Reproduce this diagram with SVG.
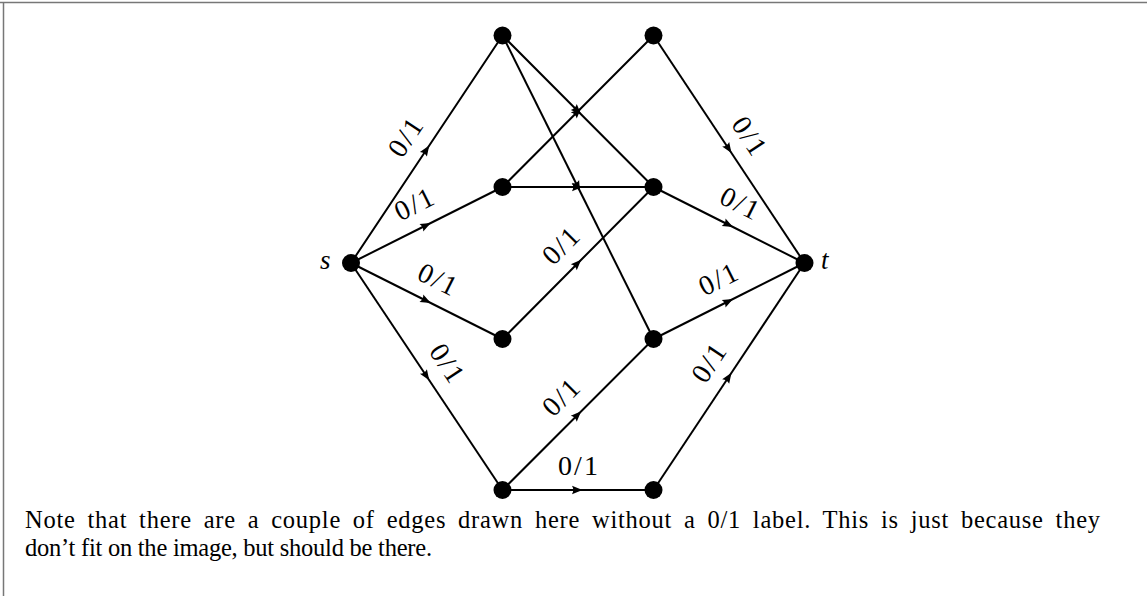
<svg xmlns="http://www.w3.org/2000/svg" width="1147" height="596" viewBox="0 0 1147 596">
<defs>
<marker id="arr" markerUnits="userSpaceOnUse" markerWidth="20" markerHeight="20" viewBox="-10 -10 20 20" refX="0" refY="0" orient="auto">
<path d="M4.5,0 L-6,-4.2 Q-3.5,0 -6,4.2 Z" fill="#000"/>
</marker>
<style>
.e{fill:none;stroke:#000;stroke-width:2;marker-mid:url(#arr)}
.n{fill:#000}
.lb{font-family:"Liberation Serif",serif;font-size:28px;fill:#000;text-anchor:middle}
.it{font-family:"Liberation Serif",serif;font-size:27px;font-style:italic;fill:#000}
.body{font-family:"Liberation Serif",serif;font-size:24.5px;fill:#000}
</style>
</defs>
<rect width="1147" height="596" fill="#fff"/>
<g id="border" stroke="#777" stroke-width="1.5" fill="none">
<line x1="0" y1="2.5" x2="1147" y2="2.5"/>
<line x1="3.5" y1="2.5" x2="3.5" y2="596"/>
</g>
<g id="edges">
<path class="e" d="M351,263 L426.75,149.25 L502.5,35.5"/>
<path class="e" d="M351,263 L426.75,225 L502.5,187"/>
<path class="e" d="M351,263 L426.75,301 L502.5,339"/>
<path class="e" d="M351,263 L426.75,376.5 L502.5,490"/>
<path class="e" d="M502.5,35.5 L578,111.25 L653.5,187"/>
<path class="e" d="M502.5,187 L578,111.25 L653.5,35.5"/>
<path class="e" d="M502.5,35.5 L578,187.25 L653.5,339"/>
<path class="e" d="M502.5,187 L578,187 L653.5,187"/>
<path class="e" d="M502.5,339 L578,263 L653.5,187"/>
<path class="e" d="M502.5,490 L578,414.5 L653.5,339"/>
<path class="e" d="M502.5,490 L578,490 L653.5,490"/>
<path class="e" d="M653.5,35.5 L729,149.25 L804.5,263"/>
<path class="e" d="M653.5,187 L729,225 L804.5,263"/>
<path class="e" d="M653.5,339 L729,301 L804.5,263"/>
<path class="e" d="M653.5,490 L729,376.5 L804.5,263"/>
</g>
<g id="edge-labels">
<text class="lb" transform="translate(426.75,149.25) rotate(-56.3)" x="-2" y="-15" textLength="40">0/1</text>
<text class="lb" transform="translate(426.75,225) rotate(-26.6)" x="-2" y="-15" textLength="40">0/1</text>
<text class="lb" transform="translate(426.75,301) rotate(26.6)" x="0" y="-15" textLength="40">0/1</text>
<text class="lb" transform="translate(426.75,376.5) rotate(56.3)" x="0" y="-15" textLength="40">0/1</text>
<text class="lb" transform="translate(578,263) rotate(-45.2)" x="0" y="-15" textLength="40">0/1</text>
<text class="lb" transform="translate(578,414.5) rotate(-45)" x="0" y="-15" textLength="40">0/1</text>
<text class="lb" transform="translate(578,490)" x="0" y="-15" textLength="40">0/1</text>
<text class="lb" transform="translate(729,149.25) rotate(56.4)" x="0" y="-15" textLength="40">0/1</text>
<text class="lb" transform="translate(729,225) rotate(26.7)" x="0" y="-15" textLength="40">0/1</text>
<text class="lb" transform="translate(729,301) rotate(-26.7)" x="0" y="-15" textLength="40">0/1</text>
<text class="lb" transform="translate(729,376.5) rotate(-56.4)" x="0" y="-15" textLength="40">0/1</text>
</g>
<g id="node-s"><circle class="n" cx="351" cy="263" r="9"/><text class="it" x="320" y="269">s</text></g>
<g id="node-a"><circle class="n" cx="502.5" cy="35.5" r="9"/></g>
<g id="node-b"><circle class="n" cx="653.5" cy="35.5" r="9"/></g>
<g id="node-c"><circle class="n" cx="502.5" cy="187" r="9"/></g>
<g id="node-d"><circle class="n" cx="653.5" cy="187" r="9"/></g>
<g id="node-e"><circle class="n" cx="502.5" cy="339" r="9"/></g>
<g id="node-f"><circle class="n" cx="653.5" cy="339" r="9"/></g>
<g id="node-g"><circle class="n" cx="502.5" cy="490" r="9"/></g>
<g id="node-h"><circle class="n" cx="653.5" cy="490" r="9"/></g>
<g id="node-t"><circle class="n" cx="804.5" cy="263" r="9"/><text class="it" x="821" y="269">t</text></g>
<g id="note">
<text class="body" x="25" y="528" word-spacing="5" textLength="1075">Note that there are a couple of edges drawn here without a 0/1 label. This is just because they</text>
<text class="body" x="25" y="556" textLength="407">don’t fit on the image, but should be there.</text>
</g>
</svg>
